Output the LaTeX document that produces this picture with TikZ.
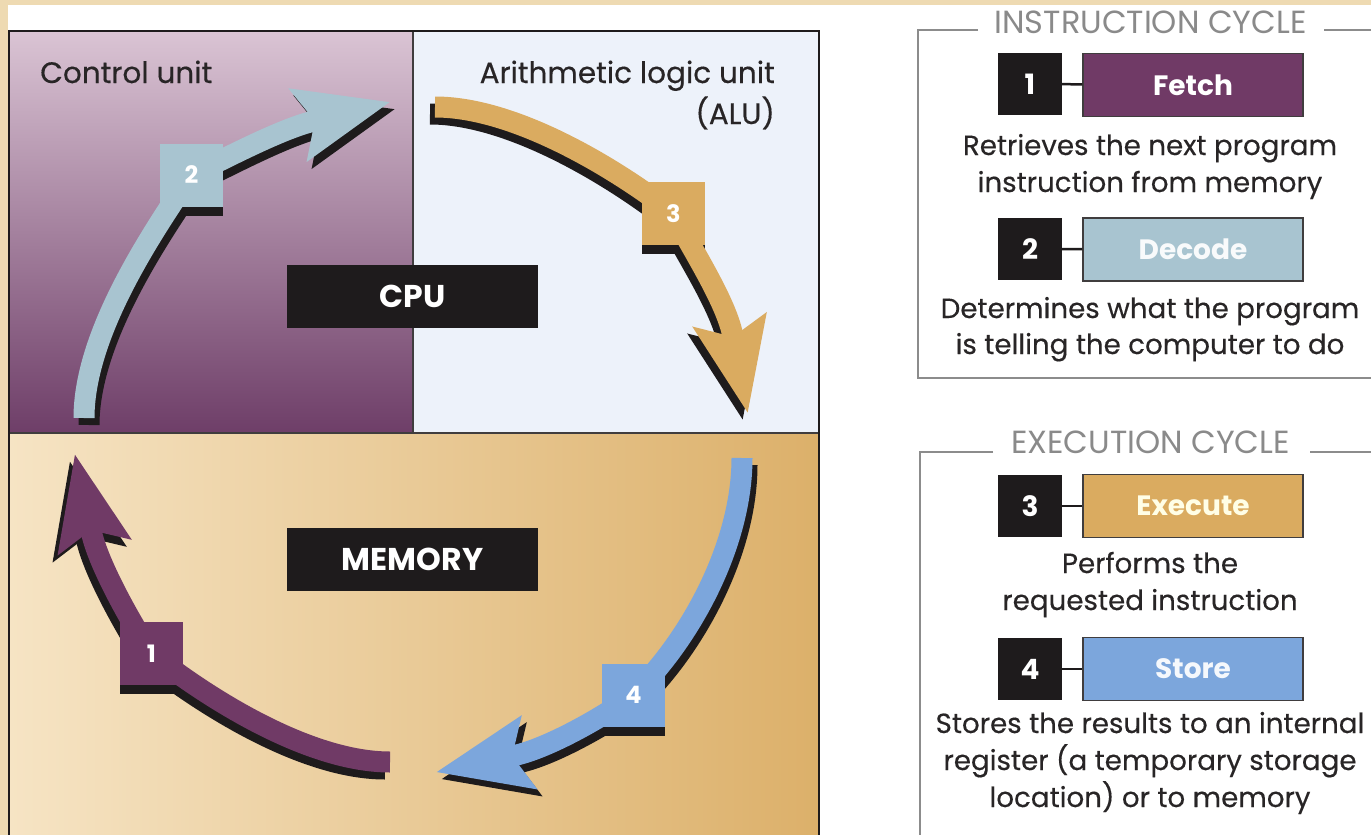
\documentclass[tikz,border=0pt]{standalone}
\usepackage{fontspec}
\setmainfont{Poppins}
\newfontfamily\medfont{Poppins}[FakeBold=0.35]
\usetikzlibrary{calc}
\definecolor{beige}{RGB}{238,218,178}
\definecolor{cuTop}{RGB}{218,196,212}
\definecolor{cuBot}{RGB}{110,62,104}
\definecolor{aluBg}{RGB}{237,242,250}
\definecolor{memL}{RGB}{246,228,196}
\definecolor{memR}{RGB}{220,176,106}
\definecolor{cPurple}{RGB}{112,58,102}
\definecolor{cGrey}{RGB}{168,196,208}
\definecolor{cTan}{RGB}{218,171,96}
\definecolor{cBlue}{RGB}{124,166,220}
\definecolor{ink}{RGB}{30,27,28}
\definecolor{titlegrey}{RGB}{138,138,138}
\definecolor{framegrey}{RGB}{140,140,140}
\definecolor{txt}{RGB}{40,37,38}

\newcommand{\headfill}[3]{%
 \fill ({#1+10.5*cos(#3+90)},{#2+10.5*sin(#3+90)})
  -- ({#1-13*cos(#3)+38*cos(#3+90)},{#2-13*sin(#3)+38*sin(#3+90)})
  -- ({#1+82*cos(#3)},{#2+82*sin(#3)})
  -- ({#1-13*cos(#3)-38*cos(#3+90)},{#2-13*sin(#3)-38*sin(#3+90)})
  -- ({#1-10.5*cos(#3+90)},{#2-10.5*sin(#3+90)}) -- cycle;}

\newcommand{\arrowTwo}{%
 \draw[shaft] (84,418) .. controls (84,330) and (158,225) .. (191,175)
   .. controls (222.5,160) and (279,129.7) .. (312.9,121.3);
 \headfill{310}{122}{-14}}
\newcommand{\arrowThree}{%
 \draw[shaft] (435,107) .. controls (520,107) and (626,176) .. (673,213)
   .. controls (688.8,244.2) and (725.9,300.6) .. (732.6,334.9);
 \headfill{732}{332}{79}}
\newcommand{\arrowFour}{%
 \draw[shaft] (742,458) .. controls (742,545) and (690,640) .. (633,695)
   .. controls (605,716) and (548.3,748.3) .. (514.1,755.6);
 \headfill{517}{755}{168}}
\newcommand{\arrowOne}{%
 \draw[shaft] (390,762) .. controls (300,762) and (190,684.5) .. (151,653)
   .. controls (134.5,628) and (98.7,566.3) .. (91.4,532.1);
 \headfill{92}{535}{258}}
\newcommand{\markshadow}[2]{%
 \fill[ink] ({#1-31.5},{#2-31.5+9}) rectangle ({#1+31.5},{#2+31.5+9});}

\begin{document}
\begin{tikzpicture}[x=1pt,y=-1pt,
 panelfont/.style={font=\medfont\fontsize{29.5}{34}\selectfont, text=txt, inner sep=0pt},
 blackbox/.style={fill=ink, text=white, font=\fontsize{31.5}{36}\selectfont\bfseries, minimum width=251pt, minimum height=63pt, inner sep=0pt},
 marker/.style={minimum size=63pt, inner sep=0pt, text=white, font=\fontsize{24}{28}\selectfont\bfseries},
 numbox/.style={fill=ink, minimum width=64pt, minimum height=62pt, inner sep=0pt, text=white, font=\fontsize{28}{32}\selectfont\bfseries},
 stepbox/.style={draw=ink!85, line width=1.3pt, minimum width=220pt, minimum height=63pt, inner sep=0pt, font=\fontsize{28}{32}\selectfont\bfseries},
 link/.style={draw=ink, line width=2.5pt},
 desc/.style={font=\medfont\fontsize{27.7}{32}\selectfont, text=txt, inner sep=0pt, anchor=base},
 cycletitle/.style={font=\fontsize{32}{36}\selectfont, text=titlegrey, inner sep=0pt, anchor=base},
 frameline/.style={draw=framegrey, line width=2pt},
 shaft/.style={line width=21pt}
]
\useasboundingbox (0,0) rectangle (1371,835);
\clip (0,0) rectangle (1371,835);
\fill[beige] (0,0) rectangle (1371,835);
\fill[white] (8,5) rectangle (1371,835);

% panels
\shade[top color=cuTop, bottom color=cuBot] (9,31) rectangle (413,433);
\fill[aluBg] (413,31) rectangle (819,433);
\shade[left color=memL, right color=memR] (9,433) rectangle (819,840);
\draw[ink!85, line width=1.3pt] (413,31) -- (413,433);
\draw[ink!85, line width=1.3pt] (9,433) -- (819,433);
\draw[ink, line width=2pt] (9,840) -- (9,31) -- (819,31) -- (819,840);

% panel labels
\node[panelfont, anchor=base west] (cu) at (40,83) {Control unit};
\node[panelfont, anchor=base east] (alu1) at (775,83) {Arithmetic logic unit};
\node[panelfont, anchor=base east] (alu2) at (775,124) {(ALU)};
\node[blackbox] (cpu) at (412.5,296.5) {CPU};
\node[blackbox] (mem) at (412.5,559.5) {MEMORY};

% shadows
\begin{scope}[shift={(5,7)}, fill=ink, draw=ink] \arrowTwo \end{scope}
\begin{scope}[shift={(-5,7)}, fill=ink, draw=ink] \arrowThree \end{scope}
\begin{scope}[shift={(5,7)}, fill=ink, draw=ink] \arrowFour \end{scope}
\begin{scope}[shift={(-5,7)}, fill=ink, draw=ink] \arrowOne \end{scope}
\markshadow{191.5}{175}
\markshadow{673.5}{213.5}
\markshadow{151.5}{653.5}
\markshadow{633.5}{695}

% arrows
\begin{scope}[fill=cGrey, draw=cGrey] \arrowTwo \end{scope}
\begin{scope}[fill=cTan, draw=cTan] \arrowThree \end{scope}
\begin{scope}[fill=cBlue, draw=cBlue] \arrowFour \end{scope}
\begin{scope}[fill=cPurple, draw=cPurple] \arrowOne \end{scope}
\node[marker, fill=cGrey] (m2) at (191.5,175) {2};
\node[marker, fill=cTan] (m3) at (673.5,213.5) {3};
\node[marker, fill=cPurple] (m1) at (151.5,653.5) {1};
\node[marker, fill=cBlue] (m4) at (633.5,695) {4};

% instruction cycle
\draw[frameline] (978,30) -- (918,30) -- (918,378) -- (1371,378);
\draw[frameline] (1324,30) -- (1371,30);
\node[cycletitle] (t1) at (1150.5,33) {INSTRUCTION CYCLE};
\node[numbox] (n1) at (1030,84) {1};
\node[stepbox, fill=cPurple, text=white] (fetch) at (1193,85) {Fetch};
\draw[link] (n1) -- (fetch);
\node[desc] (d1a) at (1150,155) {Retrieves the next program};
\node[desc] (d1b) at (1150,192) {instruction from memory};
\node[numbox] (n2) at (1030,249) {2};
\node[stepbox, fill=cGrey, text=white!92!cGrey] (decode) at (1193,249.5) {Decode};
\draw[link] (n2) -- (decode);
\node[desc] (d2a) at (1150,318) {Determines what the program};
\node[desc] (d2b) at (1150,354) {is telling the computer to do};

% execution cycle
\draw[frameline] (993,452) -- (920,452) -- (920,840);
\draw[frameline] (1310,452) -- (1371,452);
\node[cycletitle] (t2) at (1150.5,453) {EXECUTION CYCLE};
\node[numbox] (n3) at (1030,506) {3};
\node[stepbox, fill=cTan, text=white!90!yellow] (execute) at (1193,506) {Execute};
\draw[link] (n3) -- (execute);
\node[desc] (d3a) at (1150,573) {Performs the};
\node[desc] (d3b) at (1150,610) {requested instruction};
\node[numbox] (n4) at (1030,669) {4};
\node[stepbox, fill=cBlue, text=white!92!cBlue] (store) at (1193,669) {Store};
\draw[link] (n4) -- (store);
\node[desc] (d4a) at (1150,733) {Stores the results to an internal};
\node[desc] (d4b) at (1150,770) {register (a temporary storage};
\node[desc] (d4c) at (1150,807) {location) or to memory};
\end{tikzpicture}
\end{document}
